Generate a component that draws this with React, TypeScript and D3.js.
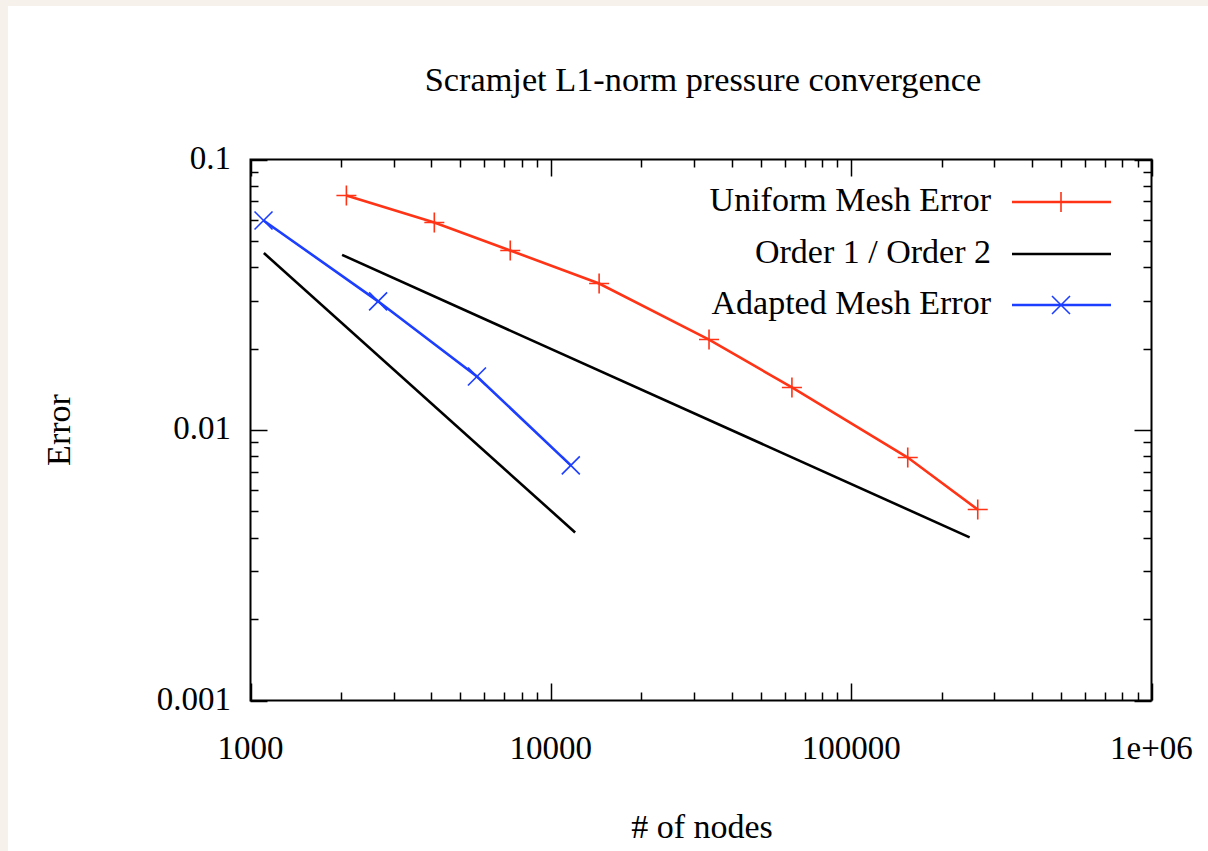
import * as d3 from 'd3';
import { useEffect, useRef } from 'react';

// uniform mesh refinement
const uniformNodes = [2086, 4093, 7326, 14480, 33630, 63500, 154300, 263900];
const uniformError = [0.0736, 0.0585, 0.0461, 0.0348, 0.0216, 0.01436, 0.00791, 0.00508];

// adapted mesh
const adaptedNodes = [1105, 2660, 5675, 11655];
const adaptedError = [0.0595, 0.0299, 0.01577, 0.0074];

// reference slopes
const order2Nodes = [1108, 12050];
const order2Error = [0.0451, 0.00418];
const order1Nodes = [2018, 248000];
const order1Error = [0.0444, 0.00401];

const xTicks = [1000, 10000, 100000, 1000000];
const xTickLabels = ['1000', '10000', '100000', '1e+06'];
const yTicks = [0.001, 0.01, 0.1];
const yTickLabels = ['0.001', '0.01', '0.1'];

const legendLabels = ['Uniform Mesh Error', 'Order 1 / Order 2', 'Adapted Mesh Error'];

const RED = '#ff3316';
const BLUE = '#1c3eff';

const App = () => {
  const ref = useRef<SVGSVGElement>(null);

  useEffect(() => {
    const svg = d3.select(ref.current);
    svg.selectAll('*').remove();

    const W = 1208, H = 851;
    const left = 250.5, top = 159.5, right = 1151.5, bottom = 700.5;
    const font = '"Liberation Serif", "Times New Roman", serif';

    svg.append('rect').attr('width', W).attr('height', H).attr('fill', '#f6f2eb');
    svg.append('rect').attr('x', 8).attr('y', 6).attr('width', W - 8).attr('height', H - 6).attr('fill', '#fff');

    const x = d3.scaleLog().domain([1000, 1000000]).range([left, right]);
    const y = d3.scaleLog().domain([0.001, 0.1]).range([bottom, top]);

    const g = svg.append('g');

    // minor + major ticks on all four sides
    const minorX: number[] = [];
    for (let d = 1000; d < 1000000; d *= 10) for (let k = 2; k <= 9; k++) minorX.push(d * k);
    const minorY: number[] = [];
    for (let d = 0.001; d < 0.1; d *= 10) for (let k = 2; k <= 9; k++) minorY.push(d * k);

    const tickG = g.append('g').attr('stroke', '#000').attr('stroke-width', 1.5);
    const drawX = (vals: number[], len: number) => {
      vals.forEach((v) => {
        const px = Math.round(x(v)) + 0.5;
        tickG.append('line').attr('x1', px).attr('x2', px).attr('y1', bottom).attr('y2', bottom - len);
        tickG.append('line').attr('x1', px).attr('x2', px).attr('y1', top).attr('y2', top + len);
      });
    };
    const drawY = (vals: number[], len: number) => {
      vals.forEach((v) => {
        const py = Math.round(y(v)) + 0.5;
        tickG.append('line').attr('x1', left).attr('x2', left + len).attr('y1', py).attr('y2', py);
        tickG.append('line').attr('x1', right).attr('x2', right - len).attr('y1', py).attr('y2', py);
      });
    };
    drawX(minorX, 8);
    drawX(xTicks, 17);
    drawY(minorY, 8);
    drawY(yTicks, 17);

    g.append('rect')
      .attr('x', left).attr('y', top)
      .attr('width', right - left).attr('height', bottom - top)
      .attr('fill', 'none').attr('stroke', '#000').attr('stroke-width', 2);

    // tick labels
    const labels = g.append('g').attr('font-family', font).attr('font-size', 34).attr('fill', '#000');
    xTicks.forEach((v, i) => {
      labels.append('text').attr('x', x(v)).attr('y', 759).attr('font-size', 33)
        .attr('text-anchor', 'middle').text(xTickLabels[i]);
    });
    yTicks.forEach((v, i) => {
      labels.append('text').attr('x', 231).attr('y', y(v) + 9).attr('font-size', 33)
        .attr('text-anchor', 'end').text(yTickLabels[i]);
    });

    // titles
    labels.append('text').attr('x', 703).attr('y', 91).attr('font-size', 34.3).attr('text-anchor', 'middle')
      .text('Scramjet L1-norm pressure convergence');
    labels.append('text').attr('x', 702).attr('y', 838).attr('text-anchor', 'middle').text('# of nodes');
    labels.append('text').attr('transform', 'translate(70,430) rotate(-90)').attr('text-anchor', 'middle').text('Error');

    const line = d3.line<[number, number]>().x((d) => x(d[0])).y((d) => y(d[1]));
    const zip = (a: number[], b: number[]) => a.map((v, i) => [v, b[i]] as [number, number]);

    const plot = g.append('g').attr('fill', 'none').attr('stroke-width', 2.6);
    plot.append('path').datum(zip(order2Nodes, order2Error)).attr('d', line).attr('stroke', '#000');
    plot.append('path').datum(zip(order1Nodes, order1Error)).attr('d', line).attr('stroke', '#000');
    plot.append('path').datum(zip(uniformNodes, uniformError)).attr('d', line).attr('stroke', RED);
    plot.append('path').datum(zip(adaptedNodes, adaptedError)).attr('d', line).attr('stroke', BLUE);

    const plus = (sel: any, cx: number, cy: number, c: string) => {
      sel.append('path').attr('d', `M${cx - 10},${cy}H${cx + 10}M${cx},${cy - 10}V${cy + 10}`)
        .attr('stroke', c).attr('stroke-width', 1.6).attr('fill', 'none');
    };
    const cross = (sel: any, cx: number, cy: number, c: string) => {
      const r = 9;
      sel.append('path').attr('d', `M${cx - r},${cy - r}L${cx + r},${cy + r}M${cx - r},${cy + r}L${cx + r},${cy - r}`)
        .attr('stroke', c).attr('stroke-width', 1.6).attr('fill', 'none');
    };
    uniformNodes.forEach((v, i) => plus(plot, x(v), y(uniformError[i]), RED));
    adaptedNodes.forEach((v, i) => cross(plot, x(v), y(adaptedError[i]), BLUE));

    // legend
    const colors = [RED, '#000', BLUE];
    const rows = [202, 254, 305];
    legendLabels.forEach((lab, i) => {
      labels.append('text').attr('x', 991).attr('y', rows[i] + 9).attr('text-anchor', 'end').text(lab);
      plot.append('line').attr('x1', 1012).attr('x2', 1111).attr('y1', rows[i]).attr('y2', rows[i])
        .attr('stroke', colors[i]);
    });
    plus(plot, 1061, rows[0], RED);
    cross(plot, 1061, rows[2], BLUE);
  }, []);

  return (
    <svg ref={ref} width={1208} height={851}
      style={{ position: 'absolute', left: 0, top: 0, display: 'block' }} />
  );
};

export default App;
